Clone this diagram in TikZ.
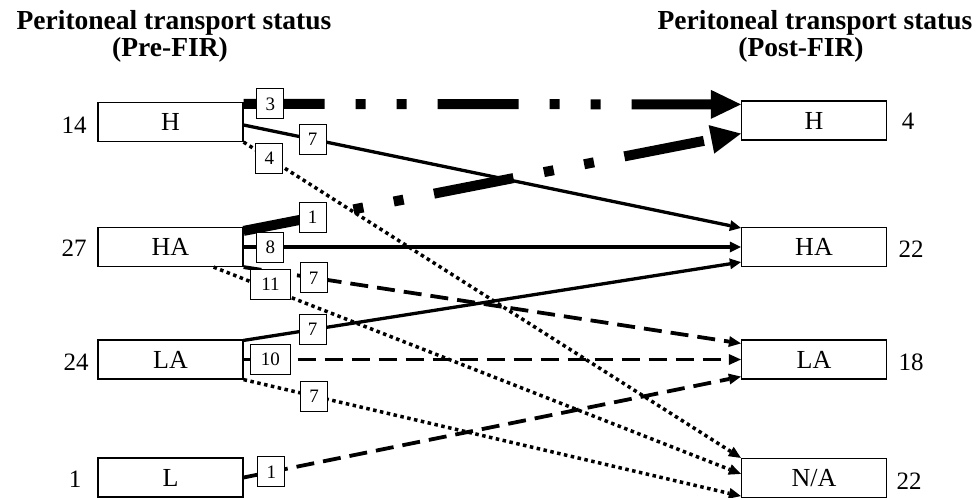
\documentclass[tikz,border=0pt]{standalone}
\usepackage{fontspec}
\setmainfont{Liberation Serif}
\usetikzlibrary{arrows.meta}

\tikzset{
  statebox/.style={draw, solid, fill=white, line width=1.2pt, minimum width=145pt,
    minimum height=39pt, inner sep=0pt, font=\fontsize{26}{28}\selectfont},
  countlabel/.style={inner sep=0pt, font=\fontsize{25}{28}\selectfont},
  titletext/.style={inner sep=0pt, anchor=base, font=\fontsize{27.5}{30}\selectfont\bfseries},
  tag/.style={draw, solid, fill=white, line width=1pt, minimum width=27pt,
    minimum height=30pt, inner sep=0pt, font=\fontsize{19}{22}\selectfont},
  widetag/.style={tag, minimum width=40pt},
  solidflow/.style={line width=3.3pt,
    -{Triangle[length=11pt,width=11pt,line width=0pt]}},
  dashedflow/.style={line width=3.8pt, dash pattern=on 18pt off 9pt,
    -{Triangle[length=12pt,width=11pt,line width=0pt]}},
  dottedflow/.style={line width=3.5pt, dash pattern=on 3.5pt off 3.5pt,
    -{Triangle[length=12pt,width=11pt,line width=0pt]}},
  heavyflow/.style={line width=10pt,
    dash pattern=on 81pt off 31pt on 10pt off 31pt on 10pt off 31pt,
    -{Triangle[length=30pt,width=29pt,line width=0pt]}},
}

\begin{document}
\begin{tikzpicture}[x=1pt, y=-1pt]
  \useasboundingbox (0,0) rectangle (978,498);

  % column headings
  \node[titletext] (tl1) at (174,29) {Peritoneal transport status};
  \node[titletext] (tl2) at (170,56) {(Pre-FIR)};
  \node[titletext] (tr1) at (815,29) {Peritoneal transport status};
  \node[titletext] (tr2) at (801,56) {(Post-FIR)};

  % status before FIR
  \node[statebox] (H1)  at (170.5,122)   {H};
  \node[statebox] (HA1) at (170.5,247)   {HA};
  \node[statebox] (LA1) at (170.5,359.5) {LA};
  \node[statebox] (L1)  at (170.5,477.5) {L};

  % status after FIR
  \node[statebox] (H2)  at (814,120.5) {H};
  \node[statebox] (HA2) at (814,247)   {HA};
  \node[statebox] (LA2) at (814,359.5) {LA};
  \node[statebox] (NA2) at (814,478)   {N/A};

  % group sizes
  \node[countlabel] (nH1)  at (74,125)  {14};
  \node[countlabel] (nHA1) at (74,248)  {27};
  \node[countlabel] (nLA1) at (76,362)  {24};
  \node[countlabel] (nL1)  at (75,479)  {1};
  \node[countlabel] (nH2)  at (908,121) {4};
  \node[countlabel] (nHA2) at (911,249) {22};
  \node[countlabel] (nLA2) at (911,362) {18};
  \node[countlabel] (nNA2) at (909,481) {22};

  % transitions into H
  \draw[heavyflow] ([yshift=-2pt]H1.north east) -- ([yshift=-4pt]H2.north west)
    node[tag, pos=0.054] {3};
  \draw[heavyflow] ([yshift=-4pt]HA1.north east) -- ([yshift=7pt]H2.south west)
    node[tag, pos=0.139] {1};

  % transitions into HA
  \draw[solidflow] ([yshift=-3pt]H1.east) -- ([yshift=-1pt]HA2.north west)
    node[tag, pos=0.139] {7};
  \draw[solidflow] (HA1.east) -- (HA2.west)
    node[tag, pos=0.054] {8};
  \draw[solidflow] ([yshift=-1pt]LA1.north east) -- ([yshift=5pt]HA2.south west)
    node[tag, pos=0.139] {7};

  % transitions into LA
  \draw[dashedflow] (HA1.south east) -- ([yshift=-4pt]LA2.north west)
    node[tag, pos=0.141] {7};
  \draw[dashedflow] (LA1.east) -- (LA2.west)
    node[widetag, pos=0.054] {10};
  \draw[dashedflow] (L1.east) -- ([yshift=3pt]LA2.south west)
    node[tag, pos=0.056] {1};

  % transitions into N/A
  \draw[dottedflow] (H1.south east) -- (NA2.north west)
    node[tag, pos=0.052] {4};
  \draw[dottedflow] ([xshift=-30pt]HA1.south east) -- ([yshift=-16pt]NA2.north west)
    node[widetag, pos=0.108, yshift=5pt] {11};
  \draw[dottedflow] (LA1.south east) -- ([yshift=2pt]NA2.south west)
    node[tag, pos=0.142] {7};
\end{tikzpicture}
\end{document}
